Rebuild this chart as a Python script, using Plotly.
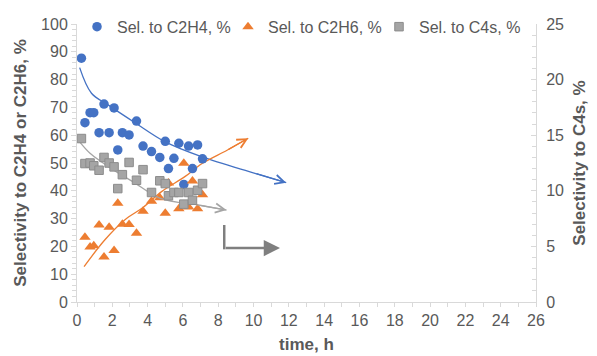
import plotly.graph_objects as go

# ---------------- data ----------------
time_h = [0.25, 0.45, 0.74, 0.95, 1.25, 1.53, 1.82, 2.10, 2.31, 2.57, 2.95, 3.37,
          3.74, 4.22, 4.69, 5.00, 5.18, 5.49, 5.77, 6.05, 6.32, 6.54, 6.83, 7.11]
sel_c2h4 = [87.7, 64.5, 68.1, 68.1, 60.9, 71.2, 60.9, 69.8, 54.7, 60.9, 60.1, 65.1,
            56.1, 54.1, 52.0, 57.8, 48.0, 51.7, 57.1, 42.3, 56.1, 48.0, 56.5, 51.5]
sel_c2h6 = [None, 23.3, 19.8, 20.2, 27.7, 16.2, 26.9, 18.5, 35.5, 28.0, 27.9, 24.7,
            32.6, 36.2, 37.5, 31.9, 42.8, None, 33.5, 49.9, 34.2, 43.5, 33.5, 38.6]
sel_c4s = [14.7, 12.45, 12.5, 12.25, 11.85, 13.0, 12.5, 12.15, 10.2, 11.45, 12.55, 10.95,
           11.9, 9.85, 10.9, 10.65, 9.55, 9.85, 9.85, 8.8, 9.85, 9.15, 10.05, 10.65]

# hand-drawn trend arrows
c2h4_trend_x = [0.15, 0.82, 1.76, 3.33, 4.97, 7.05, 10.08, 11.85]
c2h4_trend_y = [84.3, 75.1, 70.9, 64.3, 57.7, 52.3, 46.3, 42.9]
c2h6_trend_x = [0.40, 1.57, 2.70, 3.74, 4.79, 6.11, 7.11, 8.50, 9.70]
c2h6_trend_y = [12.7, 22.3, 29.5, 34.0, 39.7, 45.1, 49.9, 54.6, 58.9]
c4s_trend_x = [0.15, 0.72, 1.48, 2.33, 3.18, 4.69, 6.96, 8.47]
c4s_trend_y = [14.4, 13.4, 12.5, 11.6, 10.8, 9.35, 8.7, 8.27]

# bent arrow pointing to the right-hand axis
bent_x = [8.34, 8.34, 11.5]
bent_y = [27.7, 19.4, 19.4]

series_names = ["Sel. to C2H4, %", "Sel. to C2H6, %", "Sel. to C4s, %"]
x_title = "time, h"
y_title = "Selectivity to C2H4 or C2H6, %"
y2_title = "Selectivity to C4s, %"

BLUE = "#4472c4"
ORANGE = "#ed7d31"
GRAY = "#a5a5a5"
DARK = "#7f7f7f"
TXT = "#595959"
AX = "#d9d9d9"
FONT = "Liberation Sans, Arial, sans-serif"

fig = go.Figure()

# trend lines
fig.add_trace(go.Scatter(x=c2h4_trend_x, y=c2h4_trend_y, mode="lines",
                         line=dict(color=BLUE, width=1.3, shape="spline", smoothing=1),
                         showlegend=False, hoverinfo="skip"))
fig.add_trace(go.Scatter(x=c2h6_trend_x, y=c2h6_trend_y, mode="lines",
                         line=dict(color=ORANGE, width=1.3, shape="spline", smoothing=1),
                         showlegend=False, hoverinfo="skip"))
fig.add_trace(go.Scatter(x=c4s_trend_x, y=c4s_trend_y, mode="lines", yaxis="y2",
                         line=dict(color=GRAY, width=1.3, shape="spline", smoothing=1),
                         showlegend=False, hoverinfo="skip"))

# data markers
fig.add_trace(go.Scatter(x=time_h, y=sel_c2h4, mode="markers", name=series_names[0],
                         marker=dict(symbol="circle", size=9.5, color=BLUE)))
fig.add_trace(go.Scatter(x=time_h, y=sel_c2h6, mode="markers", name=series_names[1],
                         marker=dict(symbol="triangle-up", size=10, color=ORANGE)))
fig.add_trace(go.Scatter(x=time_h, y=sel_c4s, mode="markers", name=series_names[2], yaxis="y2",
                         marker=dict(symbol="square", size=8.5, color=GRAY,
                                     line=dict(color="#8c8c8c", width=1))))

annotations = []
# arrow heads on trend lines
for tx, ty, col, yref in [(c2h4_trend_x, c2h4_trend_y, BLUE, "y"),
                          (c2h6_trend_x, c2h6_trend_y, ORANGE, "y"),
                          (c4s_trend_x, c4s_trend_y, GRAY, "y2")]:
    annotations.append(dict(x=tx[-1], y=ty[-1], ax=tx[-2], ay=ty[-2], xref="x", yref=yref,
                            axref="x", ayref=yref, text="", showarrow=True,
                            arrowhead=5, arrowsize=1.4, arrowwidth=1.3, arrowcolor=col))
# bent arrow horizontal part with big head
annotations.append(dict(x=bent_x[2], y=bent_y[2], ax=bent_x[1], ay=bent_y[1], xref="x", yref="y",
                        axref="x", ayref="y", text="", showarrow=True,
                        arrowhead=2, arrowsize=1.3, arrowwidth=2.5, arrowcolor=DARK))

shapes = [dict(type="line", xref="x", yref="y", x0=bent_x[0], y0=bent_y[0],
               x1=bent_x[1], y1=bent_y[1] - 0.45, line=dict(color=DARK, width=2.5))]

tickfont = dict(family=FONT, size=16, color=TXT)
titlefont = dict(family=FONT, size=17, color=TXT, weight="bold")

fig.update_layout(
    width=597, height=356,
    margin=dict(l=77, r=61, t=24, b=54, autoexpand=False),
    paper_bgcolor="white", plot_bgcolor="white",
    font=dict(family=FONT, color=TXT),
    showlegend=True,
    legend=dict(orientation="h", x=0.0, xanchor="left", y=0.99, yanchor="middle",
                font=dict(family=FONT, size=16, color=TXT), bgcolor="rgba(0,0,0,0)",
                itemwidth=30, tracegroupgap=0, entrywidth=106, entrywidthmode="pixels"),
    xaxis=dict(range=[0, 26], tick0=0, dtick=2, showline=True, linecolor=AX, linewidth=1,
               ticks="outside", ticklen=4, tickcolor=AX, showgrid=False, zeroline=False,
               automargin=False,
               minor=dict(dtick=1, ticks="outside", ticklen=4, tickcolor=AX),
               tickfont=tickfont, title=dict(text=x_title, font=titlefont, standoff=9)),
    yaxis=dict(range=[0, 100], tick0=0, dtick=10, showline=True, linecolor=AX, linewidth=1,
               ticks="outside", ticklen=5, tickcolor=AX, showgrid=False, zeroline=False,
               automargin=False,
               minor=dict(dtick=2, ticks="outside", ticklen=4, tickcolor=AX),
               tickfont=tickfont, title=dict(text=y_title, font=titlefont, standoff=10)),
    yaxis2=dict(range=[0, 25], tick0=0, dtick=5, overlaying="y", side="right",
                showline=True, linecolor=AX, linewidth=1, automargin=False,
                ticks="inside", ticklen=5, tickcolor=AX, showgrid=False, zeroline=False,
                minor=dict(dtick=1, ticks="inside", ticklen=4, tickcolor=AX),
                ticklabelstandoff=6,
                tickfont=tickfont, title=dict(text=y2_title, font=titlefont, standoff=10)),
    annotations=annotations,
    shapes=shapes,
)

fig.write_html("out.html")
